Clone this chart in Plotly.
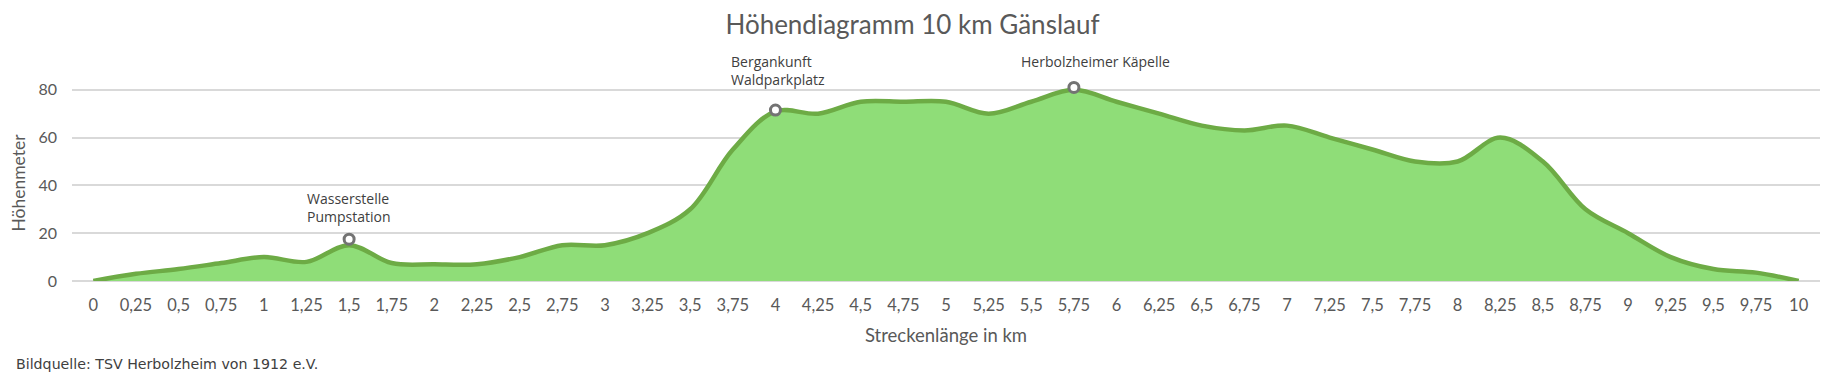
import plotly.graph_objects as go

# ---- data ----
km = [i * 0.25 for i in range(41)]
tick_labels = ["0", "0,25", "0,5", "0,75", "1", "1,25", "1,5", "1,75", "2", "2,25",
               "2,5", "2,75", "3", "3,25", "3,5", "3,75", "4", "4,25", "4,5", "4,75",
               "5", "5,25", "5,5", "5,75", "6", "6,25", "6,5", "6,75", "7", "7,25",
               "7,5", "7,75", "8", "8,25", "8,5", "8,75", "9", "9,25", "9,5", "9,75", "10"]
elevation = [0, 3, 5, 7.5, 10, 8, 15, 7.5, 7, 7,
             10, 15, 15, 20, 30, 55, 71, 70, 75, 75,
             75, 70, 75, 80, 75, 70, 65, 63, 65, 60,
             55, 50, 50, 60, 50, 30, 20, 10, 5, 3.5, 0]

poi_km = [1.5, 4, 5.75]
poi_height = [17.5, 71.5, 81]
poi_labels = ["Wasserstelle<br>Pumpstation", "Bergankunft<br>Waldparkplatz", "Herbolzheimer Käpelle"]
poi_yshift = [11, 19, 14]
poi_xshift = [0, 3, 22]

y_ticks = [0, 20, 40, 60, 80]

fig = go.Figure()

# area fill
fig.add_trace(go.Scatter(
    x=km, y=elevation, mode="lines", fill="tozeroy",
    fillcolor="#8fdd78",
    line=dict(color="#8fdd78", width=0, shape="spline", smoothing=1.0),
    hoverinfo="skip", showlegend=False,
))
# thick outline
fig.add_trace(go.Scatter(
    x=km, y=elevation, mode="lines",
    line=dict(color="#6dab45", width=4.5, shape="spline", smoothing=1.0),
    showlegend=False, cliponaxis=False,
))
# points of interest
fig.add_trace(go.Scatter(
    x=poi_km, y=poi_height, mode="markers",
    marker=dict(symbol="circle", size=10, color="white",
                line=dict(color="#737373", width=3)),
    showlegend=False, cliponaxis=False,
))

for xk, yv, txt, ys, xs in zip(poi_km, poi_height, poi_labels, poi_yshift, poi_xshift):
    fig.add_annotation(x=xk, y=yv, xref="x", yref="y", text=txt, showarrow=False,
                       yanchor="bottom", xanchor="center", align="left",
                       yshift=ys, xshift=xs,
                       font=dict(family="Open Sans", size=14, color="#404040"))

fig.add_annotation(text="Bildquelle: TSV Herbolzheim von 1912 e.V.", xref="paper", yref="paper",
                   x=0, y=0, xanchor="left", yanchor="middle", xshift=-58, yshift=-83,
                   showarrow=False, font=dict(family="DejaVu Sans", size=14.2, color="#404040"))

fig.update_layout(
    width=1825, height=373,
    margin=dict(l=72, r=5, t=85.2, b=92),
    paper_bgcolor="white", plot_bgcolor="white",
    title=dict(text="Höhendiagramm 10 km Gänslauf", x=0.5, xanchor="center",
               y=1 - 25 / 373, yanchor="middle", yref="container",
               font=dict(family="Lato", size=26, color="#595959")),
    xaxis=dict(range=[-0.125, 10.125], tickmode="array", tickvals=km, ticktext=tick_labels,
               showgrid=False, zeroline=False, showline=False,
               ticks="", ticklabelstandoff=12,
               tickfont=dict(family="Lato", size=16.5, color="#595959"),
               title=dict(text="Streckenlänge in km", standoff=15,
                          font=dict(family="Lato", size=18.5, color="#595959"))),
    yaxis=dict(range=[0, 82], tickmode="array", tickvals=y_ticks,
               showgrid=True, gridcolor="#d9d9d9", gridwidth=1.5,
               zeroline=True, zerolinecolor="#d9d9d9", zerolinewidth=1.5,
               showline=False, ticks="", ticklabelstandoff=14,
               tickfont=dict(family="Lato", size=16, color="#595959"),
               title=dict(text="Höhenmeter", standoff=8,
                          font=dict(family="Lato", size=17.5, color="#595959"))),
)

fig.write_html("out.html")
